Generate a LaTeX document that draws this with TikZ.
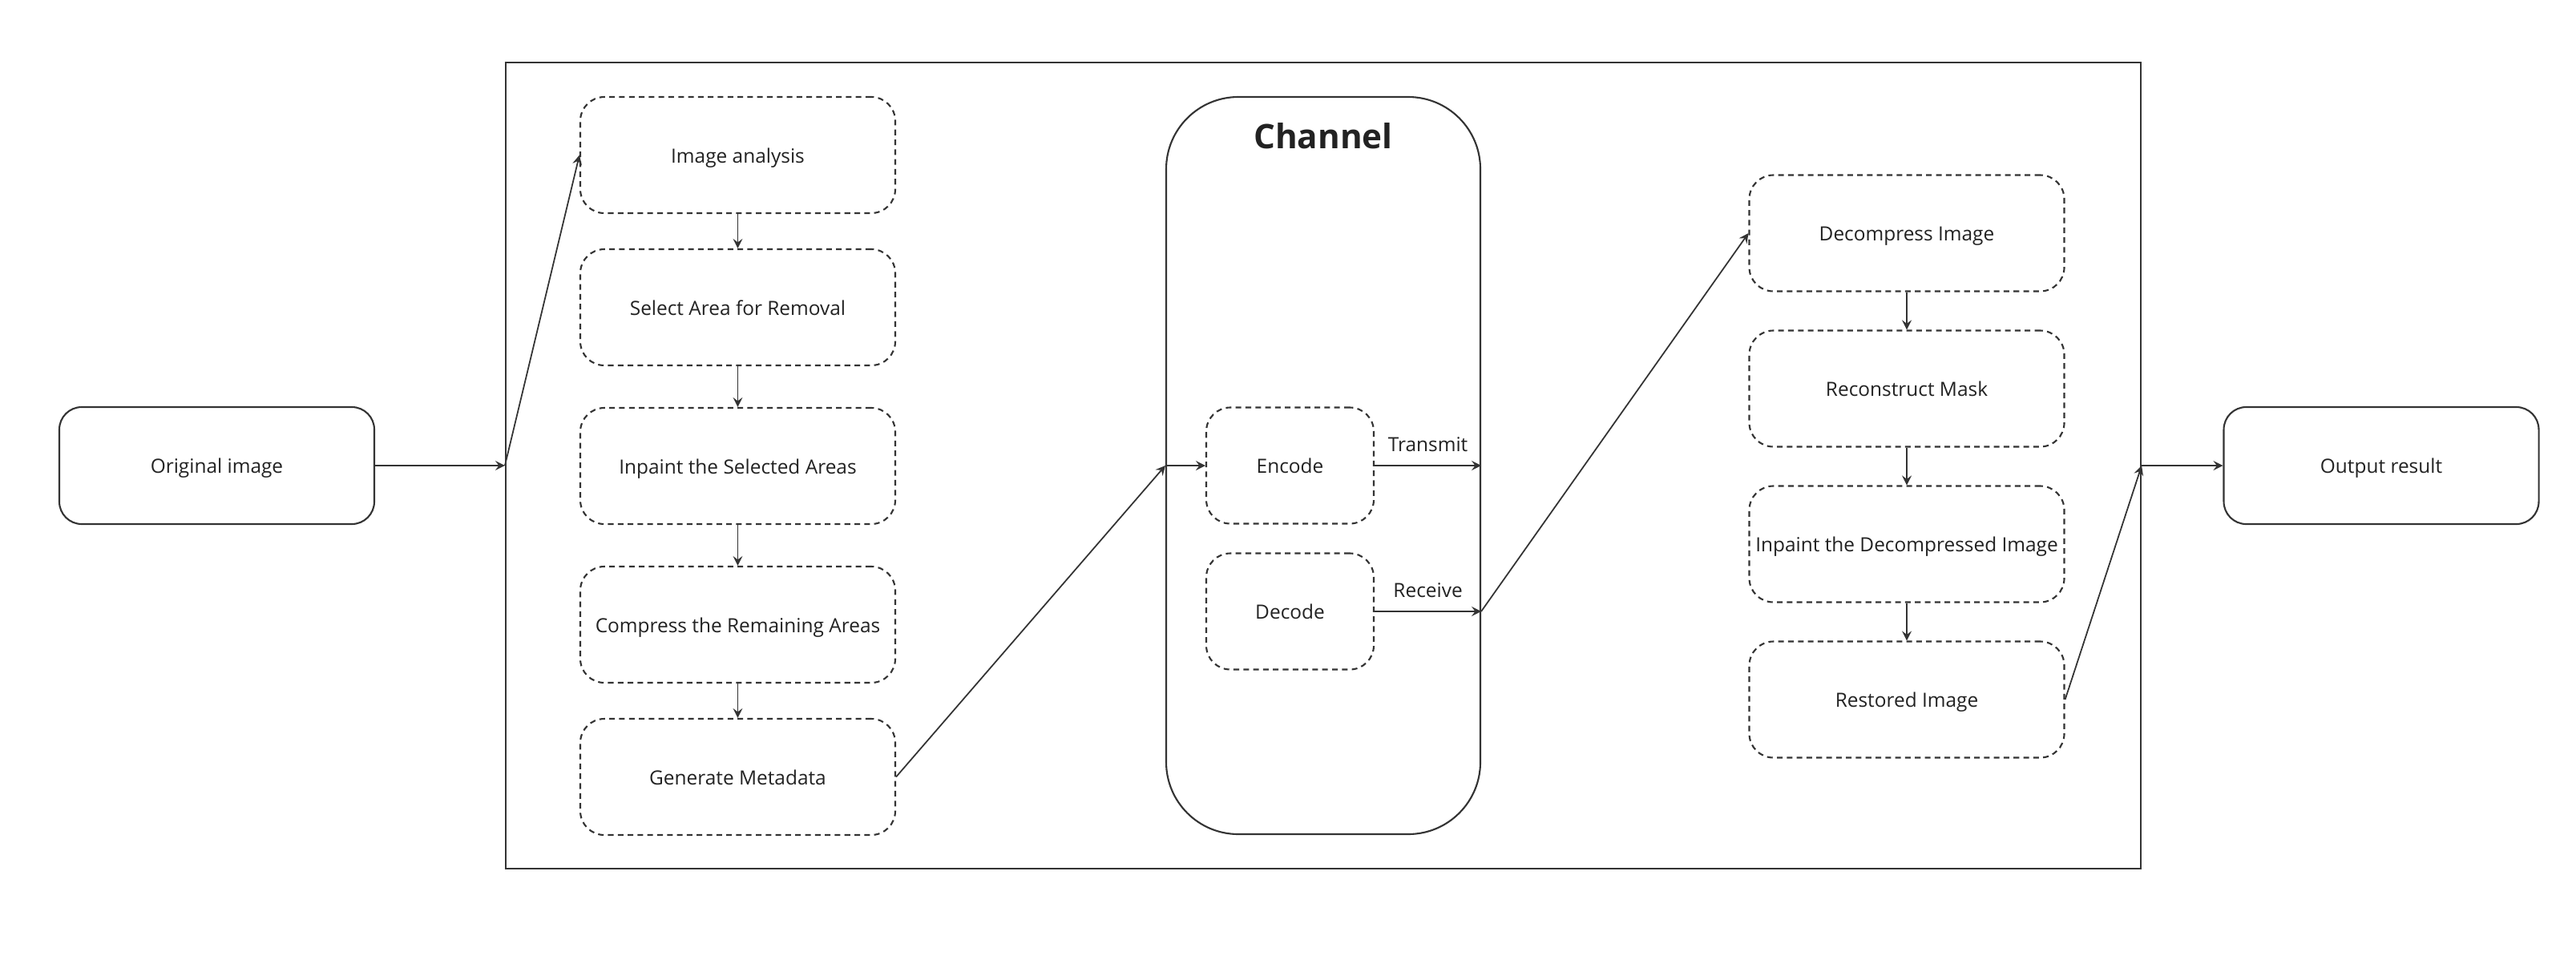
\documentclass[tikz,border=0pt]{standalone}
\usepackage{fontspec}
\setmainfont{Open Sans}
\usepackage{tikz}
\usetikzlibrary{shapes.geometric, arrows, positioning}
\definecolor{ink}{HTML}{222222}
\definecolor{edge}{HTML}{333333}
\tikzstyle{outer} = [rectangle, rounded corners=0.28cm, minimum width=3.93cm, minimum height=1.46cm, inner sep=0pt, text height=0.8em, text depth=0.25em, text centered, draw=edge, line width=0.6pt, text=ink]
\tikzstyle{stage} = [rectangle, rounded corners=0.3cm, minimum width=3.93cm, minimum height=1.45cm, inner sep=0pt, text height=0.8em, text depth=0.25em, text centered, draw=edge, line width=0.6pt, dash pattern=on 2pt off 1.5pt, text=ink]
\tikzstyle{coder} = [stage, minimum width=2.09cm]
\tikzstyle{arrow} = [line width=0.5pt, draw=edge, ->, >=stealth]
\tikzstyle{lbl} = [text=ink, inner sep=2pt, yshift=0.09cm]

\begin{document}
\begin{tikzpicture}[node distance=1.94cm, font=\fontsize{6.95pt}{8pt}\selectfont]
\useasboundingbox (0,0) rectangle (32.14,-12.12);
\node (frame) [rectangle, draw=edge, line width=0.6pt, minimum width=20.4cm, minimum height=10.06cm] at (16.51,-5.81) {};
\node (orig) [outer] at (2.705,-5.81) {Original image};
\node (out) [outer] at (29.71,-5.81) {Output result};

% sender side
\node (ana) [stage] at (9.205,-1.935) {Image analysis};
\node (sel) [stage, below of=ana, yshift=0.04cm] {Select Area for Removal};
\node (inp) [stage, below of=sel, yshift=-0.04cm] {Inpaint the Selected Areas};
\node (comp) [stage, below of=inp, yshift=-0.04cm] {Compress the Remaining Areas};
\node (meta) [stage, below of=comp, yshift=0.04cm] {Generate Metadata};

% channel
\node (channel) [rectangle, rounded corners=0.9cm, draw=edge, line width=0.6pt, minimum width=3.92cm, minimum height=9.2cm] at (16.51,-5.81) {};
\node (title) [text=ink, font=\fontsize{12pt}{14pt}\selectfont\bfseries] at (16.51,-1.70) {Channel};
\node (enc) [coder] at (16.095,-5.81) {Encode};
\node (dec) [coder] at (16.095,-7.63) {Decode};
\coordinate (rx) at (channel.east |- dec.east);

% receiver side
\node (decomp) [stage] at (23.79,-2.91) {Decompress Image};
\node (mask) [stage, below of=decomp] {Reconstruct Mask};
\node (inp2) [stage, below of=mask] {Inpaint the Decompressed Image};
\node (rest) [stage, below of=inp2] {Restored Image};

\draw [arrow] (orig) -- (frame.west);
\draw [arrow] (frame.west) -- (ana.west);
\draw [arrow] (ana) -- (sel);
\draw [arrow] (sel) -- (inp);
\draw [arrow] (inp) -- (comp);
\draw [arrow] (comp) -- (meta);
\draw [arrow] (meta.east) -- (channel.west);
\draw [arrow] (channel.west) -- (enc.west);
\draw [arrow] (enc.east) -- node [lbl, above] {Transmit} (channel.east);
\draw [arrow] (dec.east) -- node [lbl, above] {Receive} (rx);
\draw [arrow] (rx) -- (decomp.west);
\draw [arrow] (decomp) -- (mask);
\draw [arrow] (mask) -- (inp2);
\draw [arrow] (inp2) -- (rest);
\draw [arrow] (rest.east) -- (frame.east);
\draw [arrow] (frame.east) -- (out);
\end{tikzpicture}
\end{document}
